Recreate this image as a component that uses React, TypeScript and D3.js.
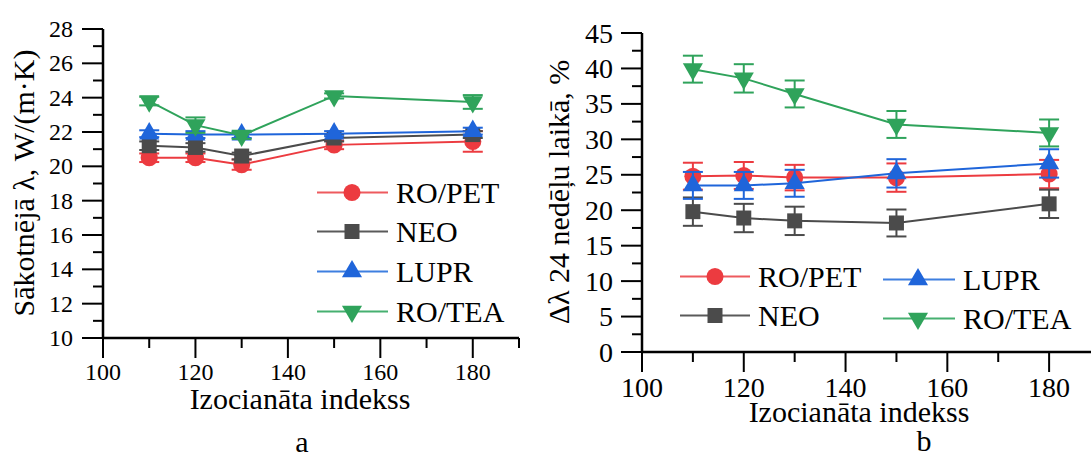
import React from 'react';
import * as d3 from 'd3';

// ---------- data ----------
const xVals = [110, 120, 130, 150, 180];
const seriesNames = ['RO/PET', 'NEO', 'LUPR', 'RO/TEA'];

// panel a: initial thermal conductivity, W/(m·K)
const aRoPet = [20.5, 20.5, 20.1, 21.25, 21.45];
const aRoPetErr = [0.25, 0.25, 0.3, 0.25, 0.6];
const aNeo = [21.2, 21.1, 20.6, 21.65, 21.85];
const aNeoErr = [0.25, 0.25, 0.2, 0.2, 0.2];
const aLupr = [21.9, 21.85, 21.85, 21.9, 22.05];
const aLuprErr = [0.2, 0.2, 0.2, 0.15, 0.2];
const aRoTea = [23.8, 22.4, 21.8, 24.1, 23.75];
const aRoTeaErr = [0.25, 0.45, 0.2, 0.15, 0.4];

// panel b: change after 24 weeks, %
const bRoPet = [24.8, 24.9, 24.6, 24.6, 25.1];
const bRoPetErr = [1.9, 1.9, 1.8, 2.0, 2.0];
const bNeo = [19.8, 18.9, 18.5, 18.2, 20.9];
const bNeoErr = [2.0, 2.0, 2.0, 1.9, 2.0];
const bLupr = [23.5, 23.5, 23.8, 25.2, 26.6];
const bLuprErr = [1.9, 1.9, 1.9, 2.0, 2.0];
const bRoTea = [39.9, 38.6, 36.4, 32.1, 30.9];
const bRoTeaErr = [1.9, 2.0, 1.9, 1.9, 1.9];

const xMajor = [100, 120, 140, 160, 180];
const xMinor = [110, 130, 150, 170, 190];
const aYMajor = [10, 12, 14, 16, 18, 20, 22, 24, 26, 28];
const aYMinor = [11, 13, 15, 17, 19, 21, 23, 25, 27];
const bYMajor = [0, 5, 10, 15, 20, 25, 30, 35, 40, 45];
const bYMinor = [2.5, 7.5, 12.5, 17.5, 22.5, 27.5, 32.5, 37.5, 42.5];

const colors = ['#EC3B40', '#4B4B4B', '#1F65DA', '#2FA35B'];
const legendLineColors = ['#EE5A5E', '#5A5A5A', '#3E7FE0', '#46B070'];
const symbols = ['circle', 'square', 'up', 'down'];

const FONT = '"Liberation Serif", "Times New Roman", serif';

function markerPath(kind: string) {
  if (kind === 'circle') return d3.symbol(d3.symbolCircle, 230)()!;
  if (kind === 'square') return d3.symbol(d3.symbolSquare, 225)()!;
  return d3.symbol(d3.symbolTriangle, 175)()!;
}

function Marker({ kind, x, y, color }: { kind: string; x: number; y: number; color: string }) {
  const rot = kind === 'down' ? ' rotate(180)' : '';
  return <path d={markerPath(kind)} transform={`translate(${x},${y})${rot}`} fill={color} />;
}

type Panel = {
  x: d3.ScaleLinear<number, number>;
  y: d3.ScaleLinear<number, number>;
  vals: number[][];
  errs: number[][];
};

function Series({ p }: { p: Panel }) {
  const line = d3
    .line<number>()
    .x((_, i) => p.x(xVals[i]))
    .y((d) => p.y(d));
  return (
    <g>
      {p.vals.map((vs, si) => (
        <g key={si}>
          <path d={line(vs)!} fill="none" stroke={colors[si]} strokeWidth={2} />
          {vs.map((v, i) => {
            const cx = p.x(xVals[i]);
            const y1 = p.y(v - p.errs[si][i]);
            const y2 = p.y(v + p.errs[si][i]);
            return (
              <g key={i} stroke={colors[si]} strokeWidth={2}>
                <line x1={cx} x2={cx} y1={y1} y2={y2} />
                <line x1={cx - 10} x2={cx + 10} y1={y1} y2={y1} />
                <line x1={cx - 10} x2={cx + 10} y1={y2} y2={y2} />
              </g>
            );
          })}
          {vs.map((v, i) => (
            <Marker key={'m' + i} kind={symbols[si]} x={p.x(xVals[i])} y={p.y(v)} color={colors[si]} />
          ))}
        </g>
      ))}
    </g>
  );
}

function Axes({
  x, y, yMajor, yMinor, fontSize, xLabelDy, yLabelGap, yFmt,
}: {
  x: d3.ScaleLinear<number, number>;
  y: d3.ScaleLinear<number, number>;
  yMajor: number[];
  yMinor: number[];
  fontSize: number;
  xLabelDy: number;
  yLabelGap: number;
  yFmt: (v: number) => string;
}) {
  const x0 = x.range()[0];
  const x1 = x.range()[1];
  const y0 = y.range()[0];
  const y1 = y.range()[1];
  return (
    <g stroke="#000" fontFamily={FONT} fontSize={fontSize}>
      <line x1={x0} x2={x1} y1={y0} y2={y0} strokeWidth={2.5} />
      <line x1={x0} x2={x0} y1={y0 + 1} y2={y1} strokeWidth={2.5} />
      {xMajor.map((t) => (
        <g key={'xM' + t}>
          <line x1={x(t)} x2={x(t)} y1={y0} y2={y0 + 20} strokeWidth={2} />
          <text x={x(t)} y={y0 + xLabelDy} textAnchor="middle" stroke="none" fill="#000">
            {t}
          </text>
        </g>
      ))}
      {xMinor.map((t) => (
        <line key={'xm' + t} x1={x(t)} x2={x(t)} y1={y0} y2={y0 + 10} strokeWidth={2} />
      ))}
      {yMajor.map((t) => (
        <g key={'yM' + t}>
          <line x1={x0 - 21} x2={x0} y1={y(t)} y2={y(t)} strokeWidth={2} />
          <text x={x0 - yLabelGap} y={y(t)} dy="0.34em" textAnchor="end" stroke="none" fill="#000">
            {yFmt(t)}
          </text>
        </g>
      ))}
      {yMinor.map((t) => (
        <line key={'ym' + t} x1={x0 - 10} x2={x0} y1={y(t)} y2={y(t)} strokeWidth={2} />
      ))}
    </g>
  );
}

function LegendItem({ si, lx1, lx2, mx, tx, base }: { si: number; lx1: number; lx2: number; mx: number; tx: number; base: number }) {
  const my = base - 10.5;
  return (
    <g>
      <line x1={lx1} x2={lx2} y1={my} y2={my} stroke={legendLineColors[si]} strokeWidth={2} />
      <Marker kind={symbols[si]} x={mx} y={my} color={colors[si]} />
      <text x={tx} y={base} fontFamily={FONT} fontSize={30} fill="#000">
        {seriesNames[si]}
      </text>
    </g>
  );
}

export default function App() {
  const xA = d3.scaleLinear().domain([100, 190]).range([103, 519]);
  const yA = d3.scaleLinear().domain([10, 28]).range([338, 29]);
  const xB = d3.scaleLinear().domain([100, 190]).range([642, 1100]);
  const yB = d3.scaleLinear().domain([0, 45]).range([352, 33]);

  const pA: Panel = {
    x: xA, y: yA,
    vals: [aRoPet, aNeo, aLupr, aRoTea],
    errs: [aRoPetErr, aNeoErr, aLuprErr, aRoTeaErr],
  };
  const pB: Panel = {
    x: xB, y: yB,
    vals: [bRoPet, bNeo, bLupr, bRoTea],
    errs: [bRoPetErr, bNeoErr, bLuprErr, bRoTeaErr],
  };

  return (
    <div style={{ position: 'absolute', left: 0, top: 0 }}>
      <svg width={1091} height={456} style={{ display: 'block', background: '#fff' }}>
        {/* panel a */}
        <Series p={pA} />
        <Axes x={xA} y={yA} yMajor={aYMajor} yMinor={aYMinor} fontSize={24} xLabelDy={42} yLabelGap={30} yFmt={(v) => String(v)} />
        <text transform="translate(34,183) rotate(-90)" textAnchor="middle" fontFamily={FONT} fontSize={30} fill="#000">
          Sākotnējā λ,  W/(m·K)
        </text>
        <text x={300} y={409} textAnchor="middle" fontFamily={FONT} fontSize={30} fill="#000">
          Izocianāta indekss
        </text>
        <text x={302} y={452} textAnchor="middle" fontFamily={FONT} fontSize={30} fill="#000">
          a
        </text>
        {[0, 1, 2, 3].map((si) => (
          <LegendItem key={si} si={si} lx1={317} lx2={388} mx={352} tx={396} base={[203, 242, 282, 322][si]} />
        ))}

        {/* panel b */}
        <Series p={pB} />
        <Axes x={xB} y={yB} yMajor={bYMajor} yMinor={bYMinor} fontSize={28} xLabelDy={45} yLabelGap={29} yFmt={(v) => String(v)} />
        <text transform="translate(569,192) rotate(-90)" textAnchor="middle" fontFamily={FONT} fontSize={30} fill="#000">
          Δλ 24 nedēļu laikā, %
        </text>
        <text x={859} y={422} textAnchor="middle" fontFamily={FONT} fontSize={30} fill="#000">
          Izocianāta indekss
        </text>
        <text x={924} y={451} textAnchor="middle" fontFamily={FONT} fontSize={30} fill="#000">
          b
        </text>
        <LegendItem si={0} lx1={680} lx2={750} mx={715} tx={758} base={287} />
        <LegendItem si={1} lx1={680} lx2={750} mx={715} tx={758} base={326} />
        <LegendItem si={2} lx1={883} lx2={955} mx={918} tx={963} base={290} />
        <LegendItem si={3} lx1={883} lx2={955} mx={918} tx={963} base={329} />
      </svg>
    </div>
  );
}
